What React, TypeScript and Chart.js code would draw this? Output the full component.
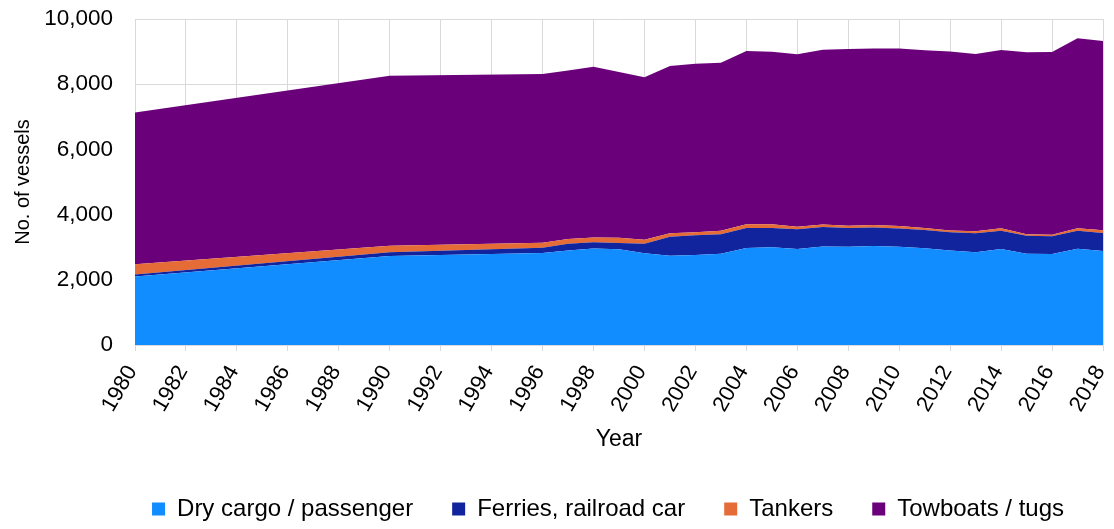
import React, { useEffect, useRef } from "react";
import { Chart, registerables } from "chart.js";

Chart.register(...registerables);

const years = [1980, 1990, 1996, 1997, 1998, 1999, 2000, 2001, 2002, 2003, 2004, 2005, 2006, 2007, 2008, 2009, 2010, 2011, 2012, 2013, 2014, 2015, 2016, 2017, 2018];

const dryCargo = [2100, 2730, 2825, 2900, 2960, 2940, 2815, 2740, 2760, 2800, 2975, 2995, 2945, 3025, 3015, 3035, 3015, 2965, 2895, 2845, 2945, 2800, 2790, 2955, 2885];
const ferries = [60, 113, 155, 205, 190, 190, 288, 583, 603, 594, 614, 593, 604, 593, 572, 573, 562, 562, 563, 583, 562, 553, 543, 552, 552];
const tankers = [315, 203, 160, 150, 150, 160, 122, 103, 93, 112, 113, 113, 81, 82, 71, 71, 71, 61, 51, 61, 72, 41, 51, 72, 82];
const towboats = [4655, 5215, 5173, 5165, 5237, 5085, 4987, 5132, 5173, 5153, 5316, 5296, 5287, 5357, 5420, 5419, 5450, 5450, 5491, 5439, 5470, 5583, 5603, 5828, 5807];

const seriesNames = ["Dry cargo / passenger", "Ferries, railroad car", "Tankers", "Towboats / tugs"];
const seriesColors = ["#118DFF", "#12239E", "#E66C37", "#6B007B"];

const xTitle = "Year";
const yTitle = "No. of vessels";

const FONT = "'Liberation Sans', Arial, Helvetica, sans-serif";
const LEGEND_HEIGHT = 71;

const legendFitPatch = {
  id: "legendFitPatch",
  beforeLayout(chart: any) {
    const lg: any = chart.legend;
    if (lg && !lg.__patched) {
      const orig = lg.fit.bind(lg);
      lg.fit = function () {
        orig();
        this.height = LEGEND_HEIGHT;
      };
      lg.__patched = true;
    }
  },
};

export default function App() {
  const ref = useRef<HTMLCanvasElement | null>(null);

  useEffect(() => {
    if (!ref.current) return;
    const all = [dryCargo, ferries, tankers, towboats];
    const datasets = all.map((vals, i) => ({
      label: seriesNames[i],
      data: years.map((y, j) => ({ x: y, y: vals[j] })),
      backgroundColor: seriesColors[i],
      borderColor: seriesColors[i],
      borderWidth: 0,
      pointRadius: 0,
      pointHoverRadius: 0,
      tension: 0,
      fill: i === 0 ? "origin" : "-1",
    }));

    const chart = new Chart(ref.current, {
      type: "line",
      data: { datasets },
      plugins: [legendFitPatch],
      options: {
        responsive: false,
        animation: false,
        layout: { padding: { top: 19, right: 11, left: 0, bottom: 0 } },
        plugins: {
          tooltip: { enabled: false },
          legend: {
            position: "bottom",
            align: "end",
            labels: {
              boxWidth: 13,
              boxHeight: 13,
              padding: 39,
              color: "#000",
              font: { family: FONT, size: 24 },
            },
          },
        },
        scales: {
          x: {
            type: "linear",
            min: 1980,
            max: 2018,
            afterFit: (s: any) => {
              s.height = 113;
              s.paddingLeft = 0;
              s.paddingRight = 0;
            },
            grid: { color: "#d9d9d9", tickLength: 6, drawTicks: true },
            border: { color: "#d9d9d9" },
            ticks: {
              stepSize: 2,
              autoSkip: false,
              minRotation: 60,
              maxRotation: 60,
              labelOffset: -3,
              padding: 10,
              color: "#000",
              font: { family: FONT, size: 22 },
              callback: (v: any) => String(v),
            },
            title: {
              display: true,
              text: xTitle,
              color: "#000",
              font: { family: FONT, size: 23, lineHeight: 1 },
              padding: { top: 0, bottom: 6.5 },
            },
          },
          y: {
            stacked: true,
            min: 0,
            max: 10000,
            afterFit: (s: any) => {
              s.width = 135;
              s.paddingTop = 0;
              s.paddingBottom = 0;
            },
            grid: { color: "#d9d9d9", drawTicks: false },
            border: { color: "#d9d9d9" },
            ticks: {
              stepSize: 2000,
              padding: 22,
              color: "#000",
              font: { family: FONT, size: 22.5 },
              callback: (v: any) => Number(v).toLocaleString("en-US"),
            },
            title: {
              display: true,
              text: yTitle,
              color: "#000",
              font: { family: FONT, size: 20, lineHeight: 1 },
              padding: { top: 13, bottom: 0 },
            },
          },
        },
      },
    });
    return () => chart.destroy();
  }, []);

  return (
    <div style={{ position: "fixed", left: 0, top: 0, width: 1114, height: 529, background: "#fff" }}>
      <canvas ref={ref} width={1114} height={529} style={{ display: "block" }} />
    </div>
  );
}
